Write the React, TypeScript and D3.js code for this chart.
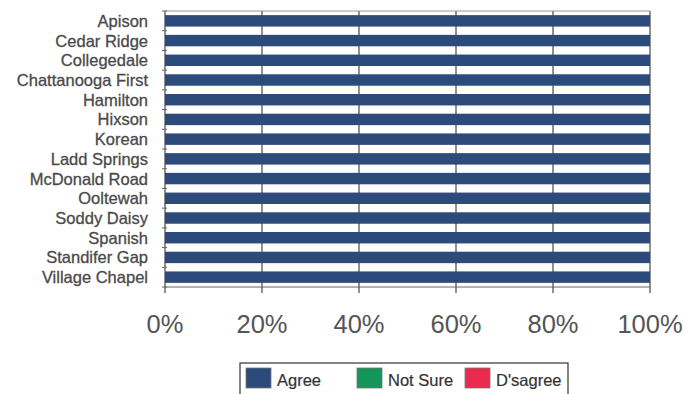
import React from "react";
import * as d3 from "d3";

const categories = [
  "Apison", "Cedar Ridge", "Collegedale", "Chattanooga First", "Hamilton", "Hixson", "Korean",
  "Ladd Springs", "McDonald Road", "Ooltewah", "Soddy Daisy", "Spanish", "Standifer Gap", "Village Chapel",
];
const agree = [100, 100, 100, 100, 100, 100, 100, 100, 100, 100, 100, 100, 100, 100];
const notSure = [0, 0, 0, 0, 0, 0, 0, 0, 0, 0, 0, 0, 0, 0];
const disagree = [0, 0, 0, 0, 0, 0, 0, 0, 0, 0, 0, 0, 0, 0];
const seriesNames = ["Agree", "Not Sure", "Disagree"];
const legendLabels = ["Agree", "Not Sure", "D'sagree"];
const seriesColors = ["#2c4a7a", "#14955a", "#ea2a4e"];
const tickValues = [0, 20, 40, 60, 80, 100];

export default function App() {
  const W = 699, H = 394;
  const left = 165, right = 650, top = 11, bottom = 287;
  const x = d3.scaleLinear().domain([0, 100]).range([left, right]);
  const y = d3.scaleBand().domain(categories).range([top, bottom]).paddingInner(0.42).paddingOuter(0.21);
  const step = y.step();
  const rows = categories.map((c, i) => ({ c, vals: [agree[i], notSure[i], disagree[i]] }));
  const font = "'Liberation Sans', Arial, sans-serif";
  const legendX = [246, 357, 465];
  return (
    <svg width={W} height={H} style={{ position: "absolute", left: 0, top: 0, background: "#fff" }}>
      {tickValues.map((t) => (
        <line key={"g" + t} x1={x(t)} x2={x(t)} y1={top} y2={bottom} stroke="#555" strokeWidth={1.3} />
      ))}
      <line x1={left} x2={right} y1={top} y2={top} stroke="#999" strokeWidth={1} />
      <line x1={left} x2={right} y1={bottom} y2={bottom} stroke="#666" strokeWidth={1} />
      {rows.map((r) => {
        let acc = 0;
        return r.vals.map((v, k) => {
          const x0 = x(acc);
          acc += v;
          if (v <= 0) return null;
          return (
            <rect key={r.c + k} x={x0} y={y(r.c)} width={x(acc) - x0} height={y.bandwidth()} fill={seriesColors[k]} />
          );
        });
      })}
      {categories.map((c, i) => (
        <line key={"yt" + i} x1={left - 3} x2={left + 2} y1={top + i * step} y2={top + i * step} stroke="#666" strokeWidth={1} />
      ))}
      <line x1={left - 3} x2={left + 2} y1={bottom} y2={bottom} stroke="#666" strokeWidth={1} />
      {tickValues.map((t) => (
        <line key={"xt" + t} x1={x(t)} x2={x(t)} y1={bottom} y2={bottom + 6} stroke="#555" strokeWidth={1.3} />
      ))}
      {categories.map((c) => (
        <text key={"l" + c} x={148} y={y(c)! + y.bandwidth() / 2} dy="0.36em" textAnchor="end"
          fontFamily={font} fontSize={16.5} fill="#4a4a4a" stroke="#4a4a4a" strokeWidth={0.3}>{c}</text>
      ))}
      {tickValues.map((t) => (
        <text key={"xl" + t} x={x(t)} y={333} textAnchor="middle" fontFamily={font} fontSize={25.5} fill="#555">
          {t + "%"}
        </text>
      ))}
      <rect x={240} y={363} width={328} height={40} fill="#fff" stroke="#333" strokeWidth={1.2} />
      {seriesNames.map((s, k) => (
        <g key={s}>
          <rect x={legendX[k]} y={368} width={25} height={20} fill={seriesColors[k]} stroke="#777" strokeWidth={0.8} />
          <text x={legendX[k] + 31} y={386} fontFamily={font} fontSize={16.5} fill="#333" stroke="#333" strokeWidth={0.2}>{legendLabels[k]}</text>
        </g>
      ))}
    </svg>
  );
}
